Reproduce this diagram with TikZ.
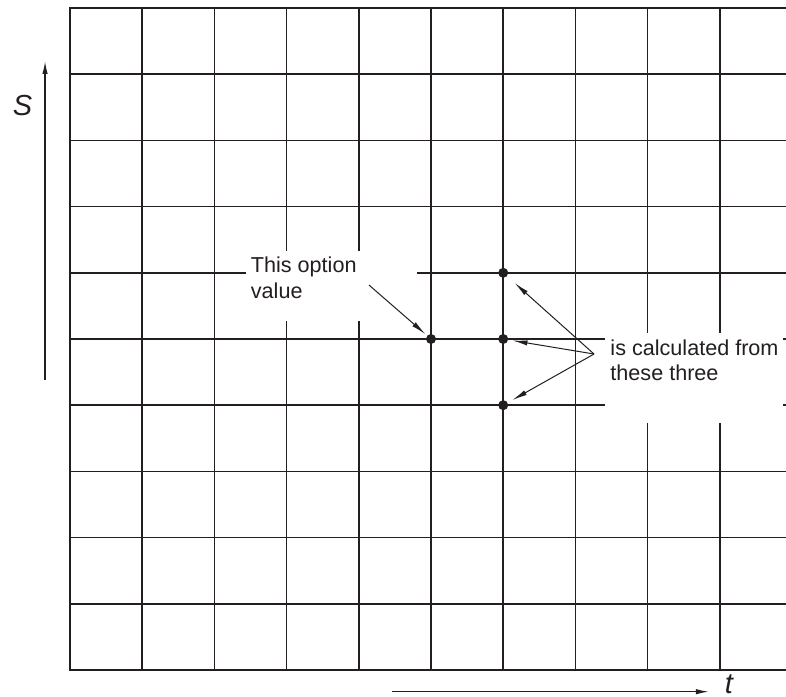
\documentclass[tikz,border=0pt]{standalone}
\usepackage{fontspec}
\setmainfont{Liberation Sans}
\usetikzlibrary{arrows.meta}
\definecolor{ink}{RGB}{35,31,32}

\begin{document}
\begin{tikzpicture}[x=36.1pt,y=33.1pt,
  gridline/.style={ink,line width=0.8pt},
  frame/.style={ink,line width=1.1pt},
  dot/.style={circle,fill=ink,inner sep=0pt,minimum size=5pt},
  note/.style={font=\fontsize{10.8}{12.8}\selectfont,text=ink,align=left,inner sep=0pt,anchor=north west},
  pointer/.style={ink,line width=0.5pt,-{Latex[length=7.5pt,width=2.6pt]}},
  axis/.style={ink,line width=0.7pt,-{Latex[length=6.5pt,width=2.7pt]}},
  axislabel/.style={font=\fontsize{14.5}{17}\selectfont\itshape,text=ink,inner sep=0pt}]
  \useasboundingbox (-0.970,-0.408) rectangle (9.917,10.121);
  % mesh
  \draw[gridline,step=1] (0,0) grid (9.917,10);
  \draw[frame] (9.917,10) -- (0,10) -- (0,0) -- (9.917,0);
  % blank patches behind the labels
  \fill[white] (2.44,5.27) rectangle (4.81,6.33);
  \fill[white] (7.41,3.73) rectangle (9.875,5.09);
  % axes
  \coordinate (s0) at (-0.346,4.38);
  \coordinate (s1) at (-0.346,9.20);
  \draw[axis] (s0) -- (s1);
  \node[axislabel] (slabel) at (-0.658,8.53) {S};
  \coordinate (t0) at (4.46,-0.328);
  \coordinate (t1) at (8.85,-0.328);
  \draw[axis] (t0) -- (t1);
  \node[axislabel] (tlabel) at (9.127,-0.215) {t};
  % grid points
  \node[dot] (here) at (5,5) {};
  \node[dot] (up) at (6,6) {};
  \node[dot] (mid) at (6,5) {};
  \node[dot] (down) at (6,4) {};
  % labels and pointers
  \node[note] (this) at (2.50,6.245) {This option\\value};
  \node[note] (three) at (7.48,4.997) {is calculated from\\these three};
  \coordinate (a) at (4.14,5.816);
  \coordinate (b) at (7.258,4.773);
  \draw[pointer,shorten >=1pt] (a) -- (here);
  \draw[pointer,shorten >=5pt] (b) -- (up);
  \draw[pointer,shorten >=2pt] (b) -- (mid);
  \draw[pointer,shorten >=2.5pt] (b) -- (down);
\end{tikzpicture}
\end{document}
